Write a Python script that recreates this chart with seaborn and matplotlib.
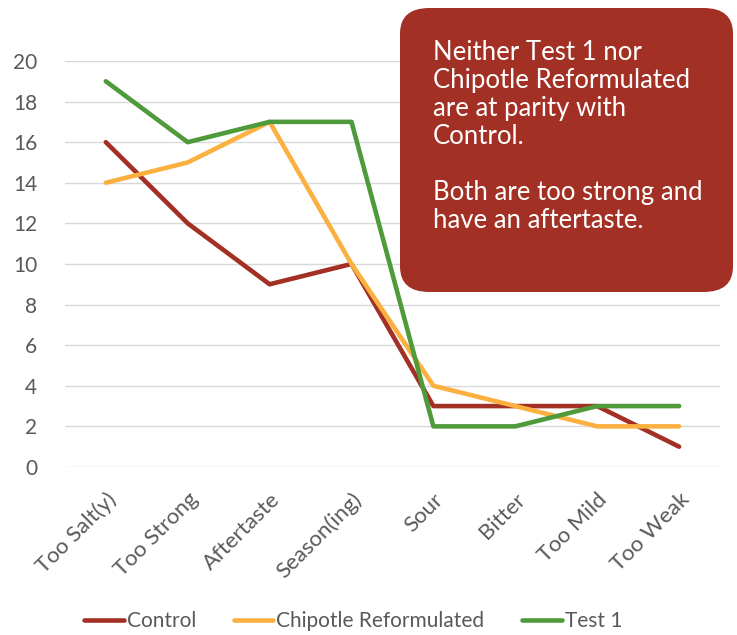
import matplotlib.pyplot as plt
import seaborn as sns
import pandas as pd
from matplotlib.patches import FancyBboxPatch

categories = ["Too Salt(y)", "Too Strong", "Aftertaste", "Season(ing)",
              "Sour", "Bitter", "Too Mild", "Too Weak"]
control = [16, 12, 9, 10, 3, 3, 3, 1]
chipotle = [14, 15, 17, 10, 4, 3, 2, 2]
test1 = [19, 16, 17, 17, 2, 2, 3, 3]
series_names = ["Control", "Chipotle Reformulated", "Test 1"]
colors = ["#A23024", "#FBB040", "#4F9A3B"]

rows = []
for name, vals in zip(series_names, [control, chipotle, test1]):
    for c, v in zip(categories, vals):
        rows.append({"category": c, "value": v, "series": name})
df = pd.DataFrame(rows)

sns.set_style("white")
plt.rcParams["font.family"] = ["Lato", "DejaVu Sans"]

fig = plt.figure(figsize=(7.37, 6.35), dpi=100)
ax = fig.add_axes([0.088, 0.2646, 0.889, 0.6394])

sns.lineplot(data=df, x="category", y="value", hue="series",
             palette=dict(zip(series_names, colors)), linewidth=3.3,
             sort=False, ax=ax)

ax.set_xlim(-0.5, len(categories) - 0.5)
ax.set_ylim(0, 20)
ax.set_yticks(range(0, 21, 2))
ax.yaxis.grid(True, color="#D9D9D9", linewidth=1)
ax.set_axisbelow(True)
for s in ax.spines.values():
    s.set_visible(False)
ax.set_xlabel("")
ax.set_ylabel("")
ax.tick_params(axis="y", length=0, pad=20, labelsize=15, labelcolor="#595959")
ax.tick_params(axis="x", length=0, pad=16, labelsize=16, labelcolor="#595959")
plt.setp(ax.get_xticklabels(), rotation=45, ha="right", rotation_mode="anchor")

leg = ax.legend(loc="center", bbox_to_anchor=(0.44, -0.38), ncol=3, frameon=False,
                fontsize=15, handlelength=1.9, handletextpad=0.15, columnspacing=1.8)
for t in leg.get_texts():
    t.set_color("#595959")

box = FancyBboxPatch((400 / 737, 1 - 292 / 635), 333 / 737, 284 / 635,
                     boxstyle="round,pad=0,rounding_size=0.04",
                     transform=fig.transFigure, facecolor="#A33025",
                     edgecolor="none", zorder=5)
fig.patches.append(box)
fig.text(433 / 737, 1 - 40 / 635,
         "Neither Test 1 nor\nChipotle Reformulated\nare at parity with\nControl.\n\n"
         "Both are too strong and\nhave an aftertaste.",
         color="white", fontsize=18.5, va="top", ha="left", linespacing=1.15,
         zorder=6)

fig.savefig("out.png", dpi=100)
